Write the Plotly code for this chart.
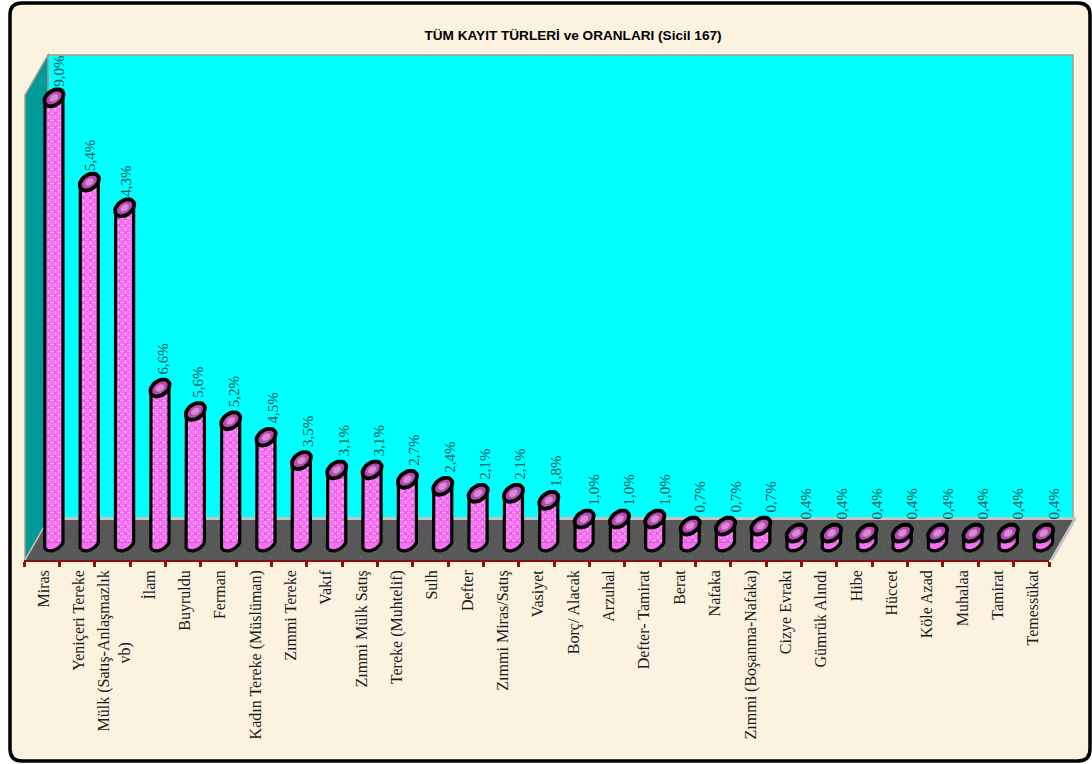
import math
import plotly.graph_objects as go

categories = ["Miras", "Yeniçeri Tereke", "Mülk (Satış-Anlaşmazlık<br>vb)" + "\u00a0" * 18, "İlam", "Buyruldu", "Ferman",
              "Kadın Tereke (Müslüman)", "Zımmi Tereke", "Vakıf", "Zımmi Mülk Satış", "Tereke (Muhtelif)",
              "Sulh", "Defter", "Zımmi Miras/Satış", "Vasiyet", "Borç/ Alacak", "Arzuhal", "Defter- Tamirat",
              "Berat", "Nafaka", "Zımmi (Boşanma-Nafaka)", "Cizye Evrakı", "Gümrük Alındı", "Hibe", "Hüccet",
              "Köle Azad", "Muhalaa", "Tamirat", "Temessükat"]
values = [19.0, 15.4, 14.3, 6.6, 5.6, 5.2, 4.5, 3.5, 3.1, 3.1, 2.7, 2.4, 2.1, 2.1, 1.8, 1.0, 1.0, 1.0,
          0.7, 0.7, 0.7, 0.4, 0.4, 0.4, 0.4, 0.4, 0.4, 0.4, 0.4]
labels = [f"{v:.1f}%".replace(".", ",") for v in values]
title_text = "TÜM KAYIT TÜRLERİ ve ORANLARI (Sicil 167)"

W, H = 1092, 764
X0, X1 = 24.0, 1049.0          # pixel span of the category axis
Y_ZERO, PX_PER_UNIT = 542.4, 23.4
Y_BOTTOM, Y_TOP = 561.0, 40.0
N = len(categories)
PX_PER_CAT = (X1 - X0) / N
DEPTH_DX, DEPTH_DY = 23, 40    # pixel offset from front to back of the 3-D box
BAR_SHIFT = 12.3 / PX_PER_CAT
R = 9.0
SKEW_X, SKEW_Y = 3.5, 8.5

dx = 1 / PX_PER_CAT
dy = 1 / PX_PER_UNIT
pos = [i + BAR_SHIFT for i in range(N)]


def ell(cx, cy, t, scale=1.0):
    return (cx + scale * (R * math.cos(t) + SKEW_X * math.sin(t)) * dx,
            cy + scale * (SKEW_Y * math.sin(t)) * dy)


def poly(cx, cy, t0, t1, n=28, scale=1.0):
    pts = [ell(cx, cy, t0 + (t1 - t0) * k / n, scale) for k in range(n + 1)]
    return [p[0] for p in pts], [p[1] for p in pts]


fig = go.Figure()

# cylinder bodies: pale checks, then magenta dots
fig.add_trace(go.Bar(
    x=pos, y=values, width=2 * R * dx,
    marker=dict(color="#F870F4", line=dict(width=0),
                pattern=dict(shape="+", bgcolor="#F870F4", fgcolor="#FFE4FF", size=7, solidity=0.3)),
    hoverinfo="skip", showlegend=False))
fig.add_trace(go.Bar(
    x=pos, y=values, width=2 * R * dx,
    marker=dict(color="rgba(0,0,0,0)", line=dict(width=0),
                pattern=dict(shape=".", bgcolor="rgba(0,0,0,0)", fgcolor="#D010D0", size=7, solidity=0.16)),
    hoverinfo="skip", showlegend=False))

# data labels (sit in the bar layer, so the caps cover what they overlap)
label_gap = [(0.02 if v >= 10 else 0.45) for v in values]
label_nudge = [5 if v > 18 else 1 if v >= 10 else 3 if v >= 5 else 7 if v >= 1.5 else 10 for v in values]
fig.add_trace(go.Bar(
    x=[p + n * dx for p, n in zip(pos, label_nudge)], y=label_gap, base=values, width=0.3,
    marker=dict(color="rgba(0,0,0,0)", line=dict(width=0)),
    text=labels, textposition="outside", textangle=-90, cliponaxis=False, constraintext="none",
    textfont=dict(family="Liberation Serif", size=15, color="#0A5A5A"),
    hoverinfo="skip", showlegend=False))

# lower half of each cylinder foot, and the outline of each cylinder
fx, fy, ox, oy = [], [], [], []
for p, v in zip(pos, values):
    xs, ys = poly(p, 0, math.pi, 2 * math.pi)
    fx += xs + [None]
    fy += ys + [None]
    ox += [p - R * dx] + xs + [p + R * dx, None]
    oy += [v] + ys + [v, None]
fig.add_trace(go.Scatter(x=fx, y=fy, mode="lines", fill="toself", fillcolor="#F870F4", cliponaxis=False,
                         line=dict(width=0), hoverinfo="skip", showlegend=False))
fig.add_trace(go.Scatter(x=ox, y=oy, mode="lines", line=dict(color="#000000", width=3.2), cliponaxis=False,
                         hoverinfo="skip", showlegend=False))

# top caps
cx_, cy_, ix_, iy_ = [], [], [], []
for p, v in zip(pos, values):
    xs, ys = poly(p, v, 0, 2 * math.pi)
    cx_ += xs + [None]
    cy_ += ys + [None]
    xs, ys = poly(p, v, 0, 2 * math.pi, scale=0.45)
    ix_ += xs + [None]
    iy_ += ys + [None]
fig.add_trace(go.Scatter(x=cx_, y=cy_, mode="lines", fill="toself", fillcolor="#B848B4", cliponaxis=False,
                         line=dict(color="#000000", width=3.8), hoverinfo="skip", showlegend=False))
fig.add_trace(go.Scatter(x=ix_, y=iy_, mode="lines", fill="toself", fillcolor="#D88AD4", cliponaxis=False,
                         line=dict(width=0), hoverinfo="skip", showlegend=False))


def path(points):
    return "M " + " L ".join(f"{x/W:.5f},{1-y/H:.5f}" for x, y in points) + " Z"


def area(points, fill, line=None, lw=0):
    return dict(type="path", xref="paper", yref="paper", path=path(points), fillcolor=fill,
                line=dict(color=line or fill, width=lw), layer="below")


FL = 560
BK = FL - DEPTH_DY
XL, XR = X0 + 1, X1 + 1
shapes = [
    # card with rounded corners
    dict(type="path", xref="paper", yref="paper", layer="below", fillcolor="#FBF3DF",
         line=dict(color="#000000", width=3.5),
         path=(f"M {22/W},{1-3/H} L {1078/W},{1-3/H} Q {1090/W},{1-3/H} {1090/W},{1-15/H} "
               f"L {1090/W},{1-749/H} Q {1090/W},{1-761/H} {1078/W},{1-761/H} L {22/W},{1-761/H} "
               f"Q {10/W},{1-761/H} {10/W},{1-749/H} L {10/W},{1-15/H} Q {10/W},{1-3/H} {22/W},{1-3/H} Z")),
    area([(XL + DEPTH_DX, 55), (XR + DEPTH_DX, 55), (XR + DEPTH_DX, BK), (XL + DEPTH_DX, BK)],
         "#00FFFF", "#A89C8C", 1.5),
    area([(XL, 95), (XL + DEPTH_DX, 55), (XL + DEPTH_DX, BK), (XL, FL)], "#009A9A", "#A89C8C", 1.5),
    area([(XL, FL), (XL + DEPTH_DX, BK), (XR + DEPTH_DX, BK), (XR, FL)], "#585858"),
    area([(XR, FL), (XR + DEPTH_DX, BK), (XR + DEPTH_DX + 3, BK), (XR + 3, FL)], "#C4C4C4"),
    area([(XL + DEPTH_DX, BK - 3), (XR + DEPTH_DX + 3, BK - 3), (XR + DEPTH_DX + 3, BK), (XL + DEPTH_DX, BK)],
         "#C4C4C4"),
    dict(type="line", xref="paper", yref="paper", x0=XL / W, x1=(XL + DEPTH_DX) / W, y0=1 - FL / H, y1=1 - BK / H,
         line=dict(color="#C4C4C4", width=1.5), layer="below"),
    # category axis line
    dict(type="line", xref="paper", yref="paper", x0=X0 / W, x1=X1 / W, y0=1 - Y_BOTTOM / H, y1=1 - Y_BOTTOM / H,
         line=dict(color="#8B1010", width=2), layer="below"),
]
for row_y in [526, 534, 542, 550, 557]:
    shift = (FL - row_y) * DEPTH_DX / DEPTH_DY
    shapes.append(dict(type="line", xref="paper", yref="paper", layer="below",
                       x0=(XL + shift + 3) / W, x1=(XR + shift - 3) / W, y0=1 - row_y / H, y1=1 - row_y / H,
                       line=dict(color="#7E7E7E", width=1, dash="1px,9px")))

fig.update_layout(
    width=W, height=H, margin=dict(l=0, r=0, t=0, b=0), autosize=False,
    paper_bgcolor="#FFFFFF", plot_bgcolor="rgba(0,0,0,0)", barmode="overlay", showlegend=False,
    shapes=shapes,
    title=dict(text=f"<b>{title_text}</b>", x=573 / W, xanchor="center", y=1 - 35 / H, yanchor="middle",
               font=dict(family="Liberation Sans", size=13.6, color="#000000")),
    xaxis=dict(domain=[X0 / W, (X1 + PX_PER_CAT) / W], range=[-0.5, N + 0.5], showgrid=False, zeroline=False,
               showline=False,
               tickmode="array", tickvals=[i + 0.05 for i in range(N)], ticktext=categories, ticks="",
               tickangle=-90, ticklabelstandoff=5,
               tickfont=dict(family="Liberation Serif", size=16, color="#1A1A1A"),
               minor=dict(tickmode="array", tickvals=[i - 0.5 for i in range(N + 1)],
                          ticks="outside", ticklen=5, tickwidth=3, tickcolor="#8B1010", showgrid=False)),
    yaxis=dict(domain=[1 - Y_BOTTOM / H, 1 - Y_TOP / H],
               range=[(Y_ZERO - Y_BOTTOM) * dy, (Y_ZERO - Y_TOP) * dy],
               visible=False, showgrid=False, zeroline=False),
)

fig.write_html("out.html", post_script="document.body.style.margin='0';",
               config={"displayModeBar": False})
